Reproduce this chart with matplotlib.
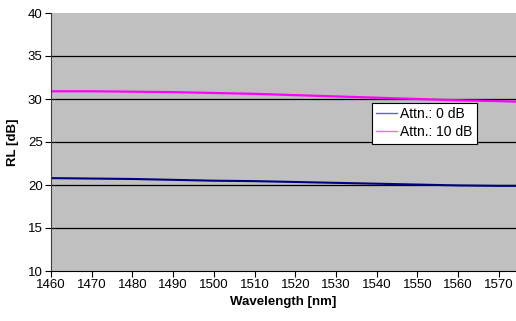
import numpy as np
from matplotlib import pyplot as plt

plt.rcParams['font.family'] = ['Liberation Sans', 'DejaVu Sans']

wavelength = [1460, 1470, 1480, 1490, 1500, 1510, 1520, 1530, 1540, 1550, 1560, 1570, 1574]
rl_0db = [20.8, 20.75, 20.7, 20.6, 20.5, 20.45, 20.35, 20.25, 20.15, 20.05, 19.95, 19.9, 19.9]
rl_10db = [30.9, 30.9, 30.85, 30.8, 30.7, 30.6, 30.45, 30.3, 30.15, 30.0, 29.85, 29.75, 29.7]

fig = plt.figure(figsize=(5.16, 3.21), dpi=100)
ax = fig.add_axes([51/516, 50/321, 465/516, 258/321])
ax.set_facecolor('#C0C0C0')

ax.plot(wavelength, rl_0db, color='#000080', linewidth=1.5, label='Attn.: 0 dB')
ax.plot(wavelength, rl_10db, color='#FF00FF', linewidth=1.6, label='Attn.: 10 dB')

ax.set_xlim(1460, 1574.2)
ax.set_ylim(10, 40)
ax.set_xticks(np.arange(1460, 1571, 10))
ax.set_yticks(np.arange(10, 41, 5))
for y in [15, 20, 25, 30, 35]:
    ax.axhline(y, color='black', linewidth=0.9, zorder=0.5)

for s in ['top', 'right']:
    ax.spines[s].set_visible(False)
ax.spines['left'].set_color('#404040')
ax.spines['bottom'].set_color('black')
ax.tick_params(direction='out', length=4, width=0.8, labelsize=9.5, pad=2)

ax.set_xlabel('Wavelength [nm]', fontsize=9.5, fontweight='bold', labelpad=3)
ax.set_ylabel('RL [dB]', fontsize=9.5, fontweight='bold', labelpad=6)

leg = ax.legend(loc='upper left', bbox_to_anchor=(321/465, (271-103)/258), fontsize=10,
                frameon=True, fancybox=False, borderpad=0.3, handlelength=1.5,
                handletextpad=0.25, labelspacing=0.3, borderaxespad=0,
                facecolor='white', framealpha=1)
leg.get_frame().set_edgecolor('black')
leg.get_frame().set_linewidth(0.8)
for line in leg.get_lines():
    line.set_linewidth(1.0)
    line.set_alpha(0.6)

fig.savefig('out.png', dpi=100)
